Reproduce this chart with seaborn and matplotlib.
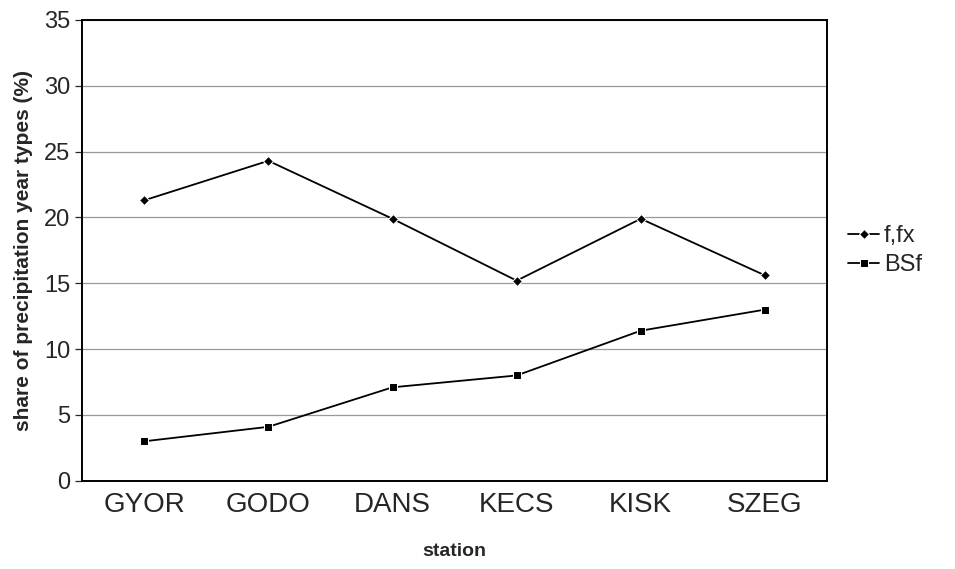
import pandas as pd
import matplotlib
matplotlib.use('Agg')
import matplotlib.pyplot as plt
import seaborn as sns
from matplotlib.ticker import FixedLocator

stations = ['GYOR', 'GODO', 'DANS', 'KECS', 'KISK', 'SZEG']
f_fx = [21.3, 24.3, 19.9, 15.2, 19.9, 15.6]
bsf = [3.0, 4.1, 7.1, 8.0, 11.4, 13.0]

sns.set_style('white')
plt.rcParams['font.family'] = ['Liberation Sans', 'DejaVu Sans']

df = pd.DataFrame({
    'station': stations * 2,
    'value': f_fx + bsf,
    'series': ['f,fx'] * len(stations) + ['BSf'] * len(stations),
})

fig = plt.figure(figsize=(9.55, 5.69), dpi=100)
ax = fig.add_axes([0.086, 0.155, 0.78, 0.81])

sns.lineplot(data=df[df['series'] == 'f,fx'], x='station', y='value', ax=ax,
             color='black', lw=1.3, marker='D', markersize=5, label='f,fx')
sns.lineplot(data=df[df['series'] == 'BSf'], x='station', y='value', ax=ax,
             color='black', lw=1.3, marker='s', markersize=6, label='BSf')

ax.set_xlim(-0.5, len(stations) - 0.5)
ax.set_ylim(0, 35)
ax.set_yticks(range(0, 36, 5))
ax.yaxis.grid(True, color='#999999', lw=0.9)
ax.set_axisbelow(True)

ax.set_xticks(range(len(stations)))
ax.set_xticklabels(stations, fontsize=20)
ax.xaxis.set_minor_locator(FixedLocator([i - 0.5 for i in range(len(stations) + 1)]))
ax.tick_params(axis='x', which='major', length=0, pad=8)
ax.tick_params(axis='x', which='minor', length=6, width=0.9, color='#555555', direction='out')
ax.tick_params(axis='y', labelsize=17, length=5, width=0.9, direction='out', left=True)

for s in ax.spines.values():
    s.set_color('black')
    s.set_linewidth(1.4)

ax.set_xlabel('station', fontsize=14, fontweight='bold', labelpad=18)
ax.set_ylabel('share of precipitation year types (%)', fontsize=15, fontweight='bold', labelpad=8)

ax.legend(loc='center left', bbox_to_anchor=(1.0, 0.5), frameon=False,
          fontsize=17, handlelength=1.3, handletextpad=0.2, labelspacing=0.3)

fig.savefig('out.png', dpi=100)
